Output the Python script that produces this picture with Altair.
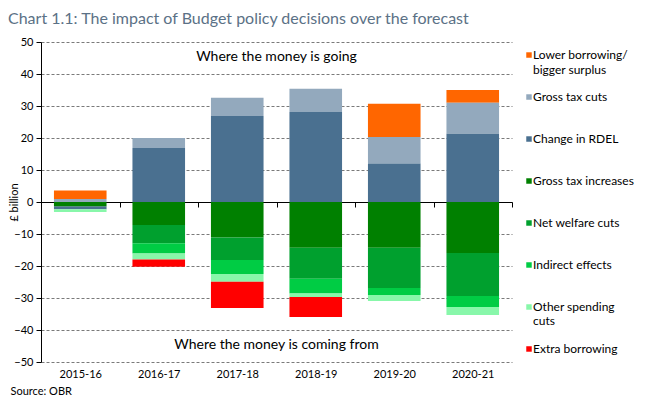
import altair as alt
import pandas as pd

FONT = "Lato"

categories = ["2015-16", "2016-17", "2017-18", "2018-19", "2019-20", "2020-21"]

series = [
    "Lower borrowing/ bigger surplus",
    "Gross tax cuts",
    "Change in RDEL",
    "Gross tax increases",
    "Net welfare cuts",
    "Indirect effects",
    "Other spending cuts",
    "Extra borrowing",
]
legend_labels = [
    "Lower borrowing/\nbigger surplus",
    "Gross tax cuts",
    "Change in RDEL",
    "Gross tax increases",
    "Net welfare cuts",
    "Indirect effects",
    "Other spending\ncuts",
    "Extra borrowing",
]
colors = ["#ff6600", "#93a9bd", "#4a7090", "#008000", "#00a02e", "#00cc44", "#88f7aa", "#ff0000"]

# stacking order away from zero
stack_order = [6, 5, 4, 1, 2, 3, 7, 8]

lower_borrowing = [2.7, 0.0, 0.0, 0.0, 10.4, 4.0]
gross_tax_cuts = [0.9, 3.1, 5.7, 7.3, 8.3, 9.7]
change_rdel = [-1.0, 16.9, 26.9, 28.1, 12.0, 21.3]
gross_tax_increases = [-1.3, -7.2, -11.1, -14.3, -14.3, -15.9]
net_welfare_cuts = [0.0, -5.7, -7.0, -9.7, -12.6, -13.5]
indirect_effects = [0.0, -3.2, -4.4, -4.6, -2.2, -3.4]
other_spending_cuts = [-0.8, -1.9, -2.4, -1.1, -1.8, -2.5]
extra_borrowing = [0.0, -2.2, -8.2, -6.2, 0.0, 0.0]

y_ticks = [-50, -40, -30, -20, -10, 0, 10, 20, 30, 40, 50]

values = [lower_borrowing, gross_tax_cuts, change_rdel, gross_tax_increases,
          net_welfare_cuts, indirect_effects, other_spending_cuts, extra_borrowing]

rows = []
for s, o, vals in zip(series, stack_order, values):
    for c, v in zip(categories, vals):
        rows.append({"year": c, "series": s, "value": v, "order": o})
df = pd.DataFrame(rows)

legend_df = pd.DataFrame({"series": series, "label": legend_labels})

W, H = 471, 320

color_scale = alt.Scale(domain=series, range=colors)
y_scale = alt.Scale(domain=[-50, 50], nice=False)
y_axis = alt.Axis(
    values=y_ticks, title="£ billion",
    titleX=-27, titleY=H / 2, titleAlign="center", titleBaseline="middle",
    titleFont=FONT, titleFontSize=11, titleFontWeight="normal",
    titleColor="#000000", domainColor="#000000", tickColor="#000000",
    tickSize=5, labelPadding=3, labelFont=FONT, labelFontSize=11,
    labelColor="#000000", labelOverlap=False, labelFlush=False,
    labelBound=False,
    grid=True, gridColor="#7a7a7a", gridDash=[3, 2], gridWidth=1,
)

bars = alt.Chart(df).mark_bar(width=alt.RelativeBandSize(0.67)).encode(
    x=alt.X(
        "year:N", sort=categories,
        scale=alt.Scale(paddingInner=0, paddingOuter=0),
        axis=alt.Axis(
            title="Source: OBR", titleX=-31, titleY=189, titleAlign="left",
            titleBaseline="middle", titleFont=FONT, titleFontSize=11,
            titleFontWeight="normal", titleColor="#000000",
            offset=-H / 2, domainColor="#000000", domainWidth=1.2,
            tickColor="#000000", tickSize=5, tickBand="extent",
            labelPadding=161, labelAngle=0, labelFont=FONT, labelFontSize=11,
            labelColor="#000000", grid=False,
        ),
    ),
    y=alt.Y("value:Q", stack="zero", scale=y_scale, axis=y_axis),
    color=alt.Color("series:N", scale=color_scale, legend=None),
    order=alt.Order("order:Q"),
)

ann_df = pd.DataFrame({"y": [45.3, -44.8],
                       "t": ["Where the money is going", "Where the money is coming from"]})
ann = alt.Chart(ann_df).mark_text(font=FONT, fontSize=14, color="#000000").encode(
    x=alt.value(W / 2), y=alt.Y("y:Q", scale=y_scale, axis=y_axis), text="t:N"
)

leg_y = alt.Y("series:N", sort=series, scale=alt.Scale(type="point", padding=0.31), axis=None)
leg_sq = alt.Chart(legend_df).mark_square(size=30, opacity=1).encode(
    x=alt.value(488), y=leg_y,
    color=alt.Color("series:N", scale=color_scale, legend=None),
)
leg_tx = alt.Chart(legend_df).mark_text(
    align="left", baseline="alphabetic", dy=4, lineBreak="\n", lineHeight=14.5,
    font=FONT, fontSize=12, color="#000000",
).encode(x=alt.value(492), y=leg_y, text="label:N")
legend = alt.layer(leg_sq, leg_tx)

main = alt.layer(bars, ann)

chart = alt.layer(main, legend).resolve_scale(y="independent").properties(
    width=W, height=H,
    autosize=alt.AutoSizeParams(type="none"),
    padding={"left": 33, "top": 34, "right": 129, "bottom": 44},
    title=alt.TitleParams(
        "Chart 1.1: The impact of Budget policy decisions over the forecast",
        anchor="start", font=FONT, fontSize=16, fontWeight="normal",
        color="#5b7186", offset=9,
    ),
).configure_view(stroke=None)

chart.save("out.html", embed_options={"renderer": "svg", "actions": False})
